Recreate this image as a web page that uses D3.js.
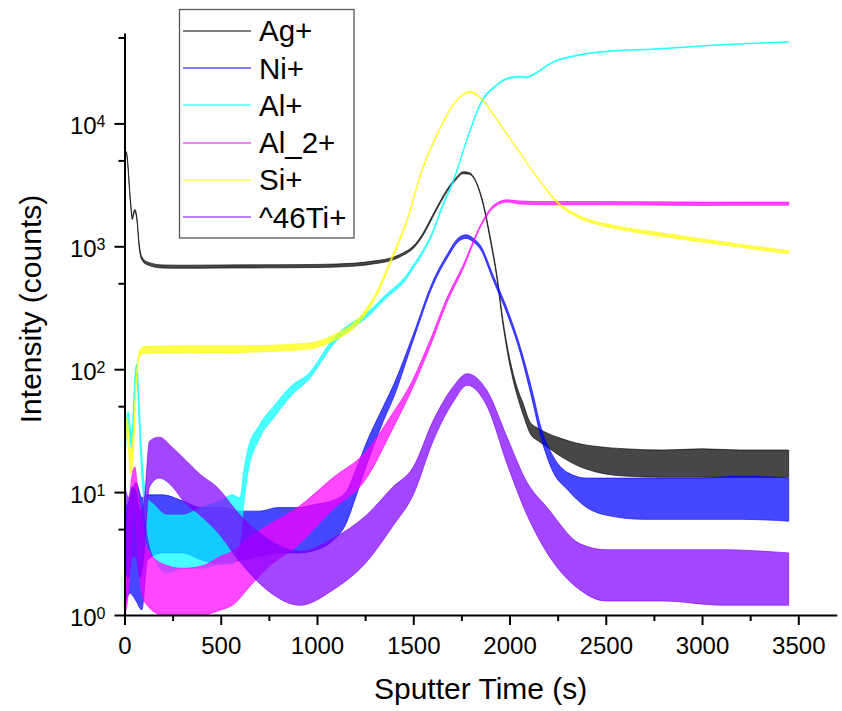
<!DOCTYPE html>
<html>
<head>
<meta charset="utf-8">
<script src="https://cdn.jsdelivr.net/npm/d3@7"></script>
<style>
  body { margin: 0; background: #fff; }
  text { font-family: "Liberation Sans", Arial, sans-serif; fill: #000; }
</style>
</head>
<body>
<svg id="chart" width="842" height="711"></svg>
<script>
// Depth profile: each row is [sputter time (s), lower count, upper count],
// the lower/upper pair spanning the scatter of the counting signal.
const agPlus = [
  [0, 5300, 5700], [9, 5600, 5900], [32, 2150, 2300], [40, 1650, 1750], [53, 1900, 2000],
  [63, 1700, 1800], [77, 950, 1030], [89, 780, 830], [115, 710, 750], [200, 665, 705],
  [300, 662, 702], [500, 665, 705], [800, 668, 708], [1000, 672, 712], [1200, 690, 730],
  [1300, 722, 762], [1350, 742, 782], [1400, 780, 820], [1450, 850, 890], [1500, 960, 1005],
  [1550, 1220, 1280], [1600, 1710, 1790], [1640, 2240, 2340], [1680, 2860, 2980], [1720, 3450, 3590],
  [1760, 3900, 4050], [1790, 3860, 3990], [1830, 3190, 3280], [1862, 2200, 2300], [1898, 1160, 1240],
  [1935, 540, 580], [1966, 230, 250], [2003, 105, 118], [2037, 63, 73], [2070, 43, 53],
  [2107, 30, 37], [2150, 26, 33], [2200, 23, 30], [2278, 19, 27], [2350, 16.5, 25],
  [2455, 14.5, 23.5], [2600, 13.5, 22.5], [2800, 13.2, 22], [3000, 13.2, 22.5], [3200, 13.2, 22],
  [3450, 13.2, 22]
];
const niPlus = [
  [0, 1.2, 7], [30, 1.5, 9], [60, 1.3, 12], [90, 1.1, 9], [120, 2.8, 9.5],
  [200, 3.2, 9.5], [300, 3.2, 8.5], [400, 2.8, 7.5], [500, 2.6, 7.5], [600, 2.8, 7],
  [700, 3, 7], [800, 3.2, 7.5], [900, 3.2, 7.5], [1000, 3.4, 8], [1080, 4, 8.5],
  [1150, 5.5, 10], [1200, 9, 15], [1260, 17, 26], [1345, 38, 50], [1400, 60, 76],
  [1500, 172, 192], [1603, 485, 525], [1675, 795, 855], [1740, 1110, 1190], [1775, 1160, 1240],
  [1810, 1090, 1170], [1850, 940, 1010], [1914, 535, 585], [1987, 283, 312], [2055, 137, 153],
  [2124, 51, 61], [2158, 30, 36], [2227, 14.5, 19.5], [2300, 10.5, 14.5], [2400, 7.5, 13],
  [2500, 6.5, 13], [2700, 6, 13], [3000, 6, 13], [3200, 6, 13.5], [3450, 5.8, 13]
];
const alPlus = [
  [0, 15, 22], [18, 35, 45], [38, 22, 30], [54, 70, 90], [64, 90, 110],
  [75, 40, 60], [85, 18, 28], [96, 10, 15], [117, 5, 9], [150, 3, 8],
  [220, 2.2, 6.5], [300, 2.4, 6.5], [400, 2.4, 7.5], [500, 2.6, 8.5], [560, 2.6, 9.5],
  [600, 4, 9], [620, 8, 15], [640, 14, 22], [700, 27, 35], [780, 41, 51],
  [870, 62, 74], [950, 80, 90], [1090, 163, 182], [1270, 273, 297], [1380, 405, 435],
  [1420, 455, 490], [1456, 520, 560], [1500, 660, 705], [1550, 880, 930], [1597, 1220, 1290],
  [1650, 2040, 2150], [1709, 3370, 3530], [1779, 7250, 7550], [1852, 14400, 15000], [1925, 19700, 20300],
  [1998, 23100, 23700], [2050, 23600, 24200], [2088, 23400, 24000], [2125, 24700, 25300], [2216, 30700, 31300],
  [2361, 35700, 36300], [2550, 38700, 39300], [2725, 39700, 40300], [3086, 43200, 43800], [3450, 45700, 46300]
];
const al2Plus = [
  [0, 1, 3], [20, 1.5, 7], [40, 5, 14], [54, 8, 16], [70, 3, 10],
  [90, 1.5, 6], [117, 1.2, 3.5], [200, 1, 2.6], [300, 1, 2.4], [400, 1, 2.5],
  [500, 1.1, 3], [560, 1.2, 3.3], [650, 1.7, 4.3], [740, 2.4, 5.3], [900, 3.7, 7.5],
  [1080, 7.2, 13], [1250, 12.5, 21], [1394, 33, 44], [1483, 63, 74], [1587, 152, 172],
  [1675, 348, 382], [1759, 655, 705], [1847, 1410, 1470], [1914, 2040, 2140], [1987, 2290, 2390],
  [2050, 2210, 2340], [2200, 2180, 2310], [2500, 2180, 2310], [3000, 2150, 2290], [3450, 2160, 2290]
];
const siPlus = [
  [0, 25, 40], [15, 28, 40], [30, 14, 22], [45, 20, 30], [64, 85, 100],
  [80, 127, 143], [100, 135, 152], [300, 136, 155], [600, 137, 155], [950, 145, 163],
  [1093, 173, 192], [1218, 238, 262], [1311, 400, 430], [1384, 745, 795], [1456, 1400, 1480],
  [1547, 4120, 4280], [1636, 8750, 9050], [1727, 15300, 15700], [1795, 17800, 18200], [1852, 15800, 16200],
  [1925, 11150, 11450], [2034, 6330, 6470], [2143, 3610, 3690], [2252, 2210, 2290], [2361, 1700, 1780],
  [2543, 1400, 1480], [2725, 1250, 1330], [3086, 1040, 1100], [3450, 870, 920]
];
const ti46Plus = [
  [0, 3, 12], [20, 2, 9], [40, 3, 11], [60, 3, 10], [80, 2, 7],
  [100, 3, 8], [130, 11, 26], [180, 13, 28], [250, 11, 23], [305, 8.5, 19],
  [392, 6.5, 14], [480, 4.8, 11], [600, 2.7, 6.5], [740, 1.6, 4.2], [912, 1.2, 3.3],
  [1083, 1.6, 4.2], [1257, 2.7, 6.5], [1394, 5.3, 11], [1500, 9.5, 16], [1603, 26, 38],
  [1707, 54, 72], [1780, 74, 92], [1883, 50, 67], [1987, 17, 28], [2091, 6.5, 12],
  [2195, 3.2, 7.5], [2366, 1.6, 3.8], [2500, 1.3, 3.4], [2800, 1.3, 3.4], [3100, 1.2, 3.4],
  [3450, 1.2, 3.2]
];

const seriesNames  = ["Ag+", "Ni+", "Al+", "Al_2+", "Si+", "^46Ti+"];
const seriesData   = [agPlus, niPlus, alPlus, al2Plus, siPlus, ti46Plus];
const seriesColors = ["#000000", "#0000ff", "#00ffff", "#ff00ff", "#ffff00", "#8000ff"];

const xMajorTicks = [0, 500, 1000, 1500, 2000, 2500, 3000, 3500];
const xMinorTicks = [250, 750, 1250, 1750, 2250, 2750, 3250];
const yMajorTicks = [1, 10, 100, 1000, 10000];
const yMinorTicks = [5, 50, 500, 5000, 50000];
const xTitle = "Sputter Time (s)";
const yTitle = "Intensity (counts)";

const svg = d3.select("#chart");
const x = d3.scaleLinear().domain([0, 3700]).range([124.5, 836.8]);
const y = d3.scaleLog().domain([1, 54400]).range([615, 33]);

svg.append("defs").append("clipPath").attr("id", "plot-clip")
  .append("rect")
  .attr("x", x.range()[0]).attr("y", y.range()[1])
  .attr("width", x.range()[1] - x.range()[0])
  .attr("height", y.range()[0] - y.range()[1]);

// Signal traces: filled spread between lower and upper counts
const band = d3.area()
  .curve(d3.curveMonotoneX)
  .x(d => x(d[0]))
  .y0(d => y(Math.max(d[1], 0.5)))
  .y1(d => y(d[2]));

const traces = svg.append("g").attr("clip-path", "url(#plot-clip)");
seriesData.forEach((data, i) => {
  traces.append("path")
    .datum(data)
    .attr("d", band)
    .attr("fill", seriesColors[i])
    .attr("fill-opacity", 0.72)
    .attr("stroke", seriesColors[i])
    .attr("stroke-opacity", 0.9)
    .attr("stroke-width", 0.7)
    .attr("stroke-linejoin", "round");
});

// Axes
function styleAxis(g) {
  g.select(".domain").attr("stroke", "#000").attr("stroke-width", 2);
  g.selectAll(".tick line").attr("stroke", "#000").attr("stroke-width", 2);
  g.selectAll(".tick text").attr("font-size", 24).attr("font-family", "Liberation Sans, Arial, sans-serif");
}

const xAxisG = svg.append("g").attr("transform", `translate(0,${y.range()[0]})`)
  .call(d3.axisBottom(x).tickValues(xMajorTicks).tickSize(10).tickSizeOuter(0).tickPadding(12).tickFormat(d3.format("d")));
styleAxis(xAxisG);
const xMinorG = svg.append("g").attr("transform", `translate(0,${y.range()[0]})`)
  .call(d3.axisBottom(x).tickValues(xMinorTicks).tickSize(6).tickSizeOuter(0).tickFormat(""));
styleAxis(xMinorG);
xMinorG.select(".domain").remove();

const yAxisG = svg.append("g").attr("transform", `translate(${x.range()[0]},0)`)
  .call(d3.axisLeft(y).tickValues(yMajorTicks).tickSize(10).tickSizeOuter(0).tickPadding(9).tickFormat(() => ""));
styleAxis(yAxisG);
yAxisG.selectAll(".tick text")
  .attr("dy", "0.42em")
  .each(function (d) {
    const t = d3.select(this);
    t.append("tspan").text("10");
    t.append("tspan").attr("dy", "-0.42em").attr("font-size", 16).text(Math.round(Math.log10(d)));
  });
const yMinorG = svg.append("g").attr("transform", `translate(${x.range()[0]},0)`)
  .call(d3.axisLeft(y).tickValues(yMinorTicks).tickSize(6).tickSizeOuter(0).tickFormat(""));
styleAxis(yMinorG);
yMinorG.select(".domain").remove();

// Axis titles
svg.append("text")
  .attr("x", (x.range()[0] + x.range()[1]) / 2)
  .attr("y", 699)
  .attr("text-anchor", "middle")
  .attr("font-size", 30)
  .text(xTitle);
svg.append("text")
  .attr("transform", "translate(41,309) rotate(-90)")
  .attr("text-anchor", "middle")
  .attr("font-size", 30)
  .text(yTitle);

// Legend
const legend = svg.append("g");
legend.append("rect")
  .attr("x", 179.5).attr("y", 9.5).attr("width", 174.5).attr("height", 228.5)
  .attr("fill", "#fff").attr("stroke", "#555").attr("stroke-width", 1.3);
seriesNames.forEach((name, i) => {
  const cy = 30.7 + i * 37.3;
  legend.append("line")
    .attr("x1", 183).attr("x2", 251).attr("y1", Math.round(cy)).attr("y2", Math.round(cy))
    .attr("stroke", seriesColors[i]).attr("stroke-width", 1.2);
  legend.append("text")
    .attr("x", 259).attr("y", cy + 10.5)
    .attr("font-size", 29.5)
    .text(name);
});
</script>
</body>
</html>
